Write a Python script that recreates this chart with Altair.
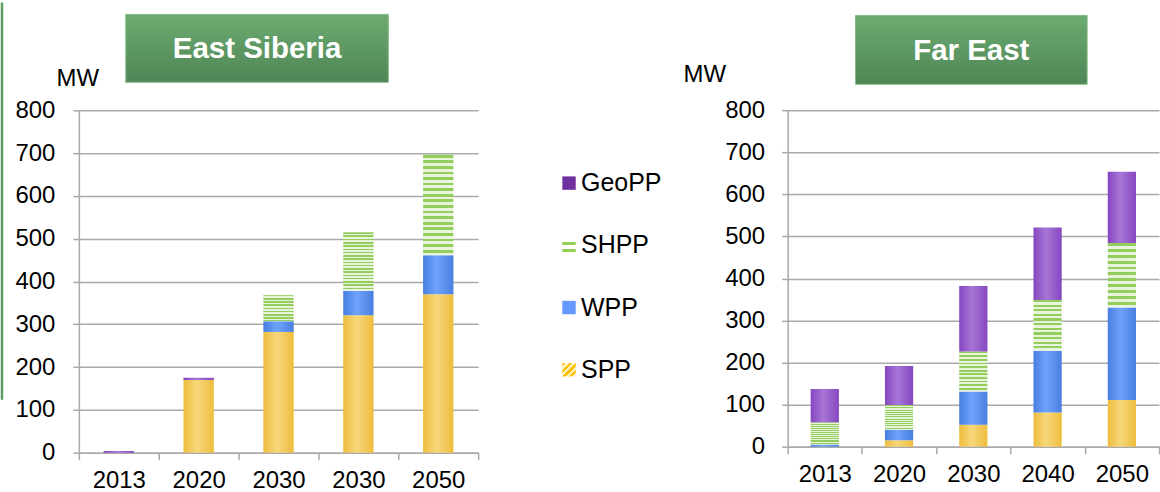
import json
import altair as alt
import pandas as pd

# ---------------- data ----------------
series = ["SPP", "WPP", "SHPP", "GeoPP"]          # stacking order, bottom -> top
legend_order = ["GeoPP", "SHPP", "WPP", "SPP"]    # legend order, top -> bottom

es_title = "East Siberia"
es_years = ["2013", "2020", "2030", "2030", "2050"]
es_spp = [0, 170, 282, 321, 370]
es_wpp = [0, 0, 25, 57, 91]
es_shpp = [0, 0, 61, 137, 235]
es_geopp = [4, 5, 0, 0, 0]

fe_title = "Far East"
fe_years = ["2013", "2020", "2030", "2040", "2050"]
fe_spp = [0, 15, 52, 81, 111]
fe_wpp = [5, 25, 79, 147, 220]
fe_shpp = [53, 59, 95, 121, 153]
fe_geopp = [79, 93, 156, 172, 170]

y_ticks = [0, 100, 200, 300, 400, 500, 600, 700, 800]
unit = "MW"

FONT = "Liberation Sans"


def make_df(years, spp, wpp, shpp, geopp):
    rows = []
    vals = {"SPP": spp, "WPP": wpp, "SHPP": shpp, "GeoPP": geopp}
    for i, _ in enumerate(years):
        for k, s in enumerate(series):
            rows.append({"idx": i, "series": s, "ord": k, "value": vals[s][i]})
    return pd.DataFrame(rows)


# ---------------- fills ----------------
def stripes(c1, c2, n, x2=0, y2=1):
    stops = []
    for i in range(n):
        a, b, c = i / n, (i + 0.5) / n, (i + 1) / n
        stops += [
            {"offset": a, "color": c1},
            {"offset": b, "color": c1},
            {"offset": b, "color": c2},
            {"offset": c, "color": c2},
        ]
    return {"gradient": "linear", "x1": 0, "y1": 0, "x2": x2, "y2": y2, "stops": stops}


def cyl(edge, mid):
    return {
        "gradient": "linear", "x1": 0, "y1": 0, "x2": 1, "y2": 0,
        "stops": [
            {"offset": 0, "color": edge},
            {"offset": 0.45, "color": mid},
            {"offset": 1, "color": edge},
        ],
    }


def bar_fill(n_stripes):
    return {
        "condition": [
            {"test": "datum.series === 'GeoPP'", "value": cyl("#8646c0", "#a676d6")},
            {"test": "datum.series === 'SHPP'", "value": stripes("#95cc5e", "#e8f4dc", n_stripes)},
            {"test": "datum.series === 'WPP'", "value": cyl("#487ee0", "#6ea3fb")},
        ],
        "value": cyl("#edbd3c", "#f7d77c"),
    }


legend_fill = {
    "condition": [
        {"test": "datum.series === 'GeoPP'", "value": "#7030a0"},
        {"test": "datum.series === 'SHPP'", "value": stripes("#ffffff", "#92d050", 2)},
        {"test": "datum.series === 'WPP'", "value": "#6699ff"},
    ],
    "value": stripes("#ffc000", "#fff0c0", 4, x2=1, y2=1),
}

GRID = "#a9a9a9"


def panel(df, years, width, height, title, title_box, mw_pos, n_stripes, label_pad, left_line=False):
    label_expr = json.dumps(years) + "[datum.value]"
    base = alt.Chart(df)
    bars = base.mark_bar(width=alt.RelativeBandSize(0.38)).encode(
        x=alt.X(
            "idx:O",
            scale=alt.Scale(paddingInner=0, paddingOuter=0),
            axis=alt.Axis(
                title=None, labelExpr=label_expr, labelAngle=0, labelFont=FONT,
                labelFontSize=24, labelColor="#000000", labelPadding=9,
                tickBand="extent", tickSize=7, tickColor=GRID, domainColor=GRID,
                domainWidth=1.5, tickWidth=1.5, grid=False,
            ),
        ),
        y=alt.Y(
            "value:Q", stack="zero",
            scale=alt.Scale(domain=[0, 800], nice=False),
            axis=alt.Axis(
                title=None, values=y_ticks, labelFont=FONT, labelFontSize=24,
                labelColor="#000000", labelPadding=label_pad, tickSize=6, tickColor=GRID,
                tickWidth=1.5, domainColor=GRID, domainWidth=1.5,
                grid=True, gridColor=GRID, gridWidth=1.5,
            ),
        ),
        detail="series:N",
        order=alt.Order("ord:Q"),
        fill=bar_fill(n_stripes),
    )
    x0, x1, y0, y1 = title_box
    tdf = pd.DataFrame({"t": [title]})
    box = alt.Chart(tdf).mark_rect(
        fill={
            "gradient": "linear", "x1": 0, "y1": 0, "x2": 0, "y2": 1,
            "stops": [{"offset": 0, "color": "#6cab70"}, {"offset": 1, "color": "#4f8656"}],
        },
        stroke="#86b888", strokeWidth=1,
    ).encode(x=alt.value(x0), x2=alt.value(x1), y=alt.value(y0), y2=alt.value(y1))
    ttext = alt.Chart(tdf).mark_text(
        font=FONT, fontSize=29.5, fontWeight="bold", color="#ffffff", baseline="middle", align="center"
    ).encode(x=alt.value((x0 + x1) / 2), y=alt.value((y0 + y1) / 2 + 1), text="t:N")
    mdf = pd.DataFrame({"t": [unit]})
    mw = alt.Chart(mdf).mark_text(
        font=FONT, fontSize=24, color="#000000", baseline="middle", align="center"
    ).encode(x=alt.value(mw_pos[0]), y=alt.value(mw_pos[1]), text="t:N")
    layers = [bars, box, ttext, mw]
    if left_line:
        line = alt.Chart(tdf).mark_rule(color="#5c9e62", strokeWidth=2.5).encode(
            x=alt.value(-77), y=alt.value(-108), y2=alt.value(290)
        )
        layers.append(line)
    return alt.layer(*layers).properties(width=width, height=height)


left = panel(make_df(es_years, es_spp, es_wpp, es_shpp, es_geopp), es_years, 400, 343,
             es_title, (47, 310, -96, -28), (-1, -31), 18, 18, left_line=True)
right = panel(make_df(fe_years, fe_spp, fe_wpp, fe_shpp, fe_geopp), fe_years, 372, 337,
              fe_title, (68, 300, -95, -26), (-83, -35), 11, 17)

ldf = pd.DataFrame({"series": legend_order})
lscale = alt.Scale(domain=legend_order, range=[73, 260], padding=0)
leg_sym = alt.Chart(ldf).mark_square(size=180, opacity=1).encode(
    x=alt.value(81),
    y=alt.Y("series:N", scale=lscale, axis=None),
    fill=legend_fill,
)
leg_txt = alt.Chart(ldf).mark_text(
    font=FONT, fontSize=25, color="#000000", align="left", baseline="middle", dx=0
).encode(x=alt.value(93), y=alt.Y("series:N", scale=lscale, axis=None), text="series:N")
legend = alt.layer(leg_sym, leg_txt).properties(width=290, height=343)

chart = alt.hconcat(left, legend, right, spacing=10, bounds="flush").properties(
    padding={"left": 0, "top": 0, "right": 0, "bottom": 0}, background="#ffffff"
).configure_view(stroke=None)

chart.save("out.html", embed_options={"renderer": "svg", "actions": False})
